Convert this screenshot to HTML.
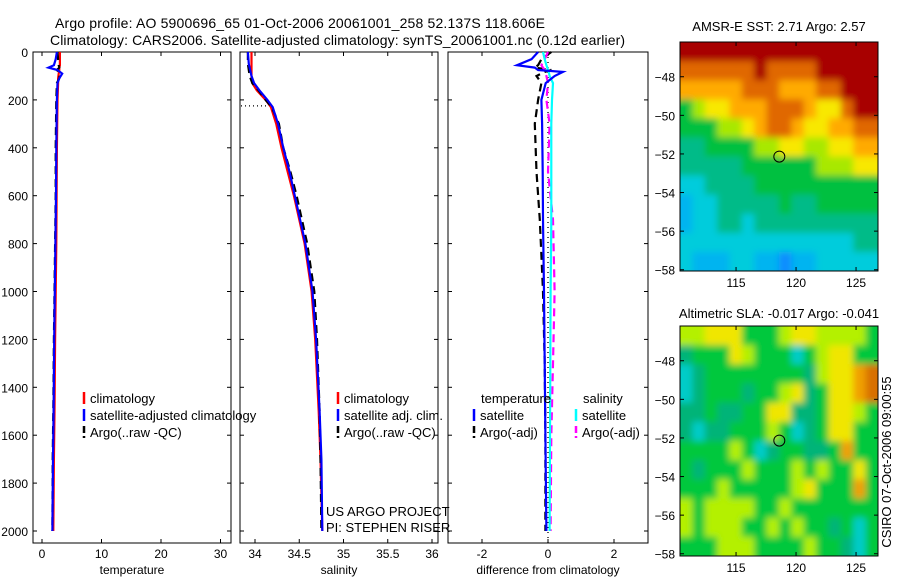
<!DOCTYPE html>
<html><head><meta charset="utf-8"><style>
body{margin:0;background:#fff;}
svg{display:block;font-family:"Liberation Sans",sans-serif;}
</style></head><body>
<svg id="c" width="900" height="580" viewBox="0 0 900 580">
<defs>
<filter id="blur" x="-5%" y="-5%" width="110%" height="110%"><feGaussianBlur stdDeviation="3.5"/></filter>
<clipPath id="clip1"><rect x="680" y="42" width="198" height="229"/></clipPath>
<clipPath id="clip2"><rect x="680" y="326" width="198" height="230"/></clipPath>
</defs>
</svg>
<script>
// ---------- data ----------
const tDepth = [0,30,55,65,75,90,110,130,200,300,400,600,800,1000,1200,1500,1700,2000];
const tClim  = [3.0,3.0,3.0,2.9,2.9,2.8,2.7,2.7,2.6,2.55,2.5,2.45,2.4,2.3,2.2,2.1,2.0,1.9];
const tSat   = [2.5,2.3,2.0,1.1,2.6,3.4,2.9,2.6,2.5,2.45,2.4,2.35,2.25,2.15,2.05,1.95,1.85,1.75];
const tArgo  = [2.6,2.7,2.8,2.9,2.5,3.0,2.9,2.5,2.4,2.35,2.3,2.3,2.2,2.1,2.0,1.9,1.8,1.75];
const sDepth = [0,50,100,130,160,200,230,300,400,500,600,700,800,1000,1200,1500,1700,2000];
const sClim  = [33.96,33.96,33.96,33.97,34.02,34.12,34.18,34.24,34.30,34.37,34.44,34.50,34.56,34.64,34.68,34.72,34.74,34.76];
const sSat   = [33.92,33.93,33.96,33.99,34.05,34.14,34.20,34.26,34.32,34.39,34.45,34.51,34.57,34.65,34.69,34.73,34.75,34.76];
const sArgo  = [33.92,33.92,33.94,33.97,34.04,34.12,34.19,34.27,34.32,34.40,34.47,34.53,34.59,34.67,34.70,34.73,34.74,34.75];
const dDepth = [0,30,55,65,75,83,100,130,200,300,500,700,1000,1300,1600,2000];
const dTSat  = [-0.3,-0.5,-0.94,-0.4,-0.3,0.45,0.2,-0.07,-0.2,-0.18,-0.16,-0.15,-0.12,-0.1,-0.08,-0.05];
const dTArgo = [0.1,-0.2,-0.3,-0.4,0.1,-0.1,-0.35,-0.2,-0.3,-0.4,-0.35,-0.25,-0.15,-0.1,-0.08,-0.08];
const dSSat  = [-0.15,-0.1,-0.05,-0.02,0,0.02,0.05,0.15,0.12,0.1,0.1,0.1,0.08,0.07,0.06,0.05];
const dSArgo = [0,-0.1,-0.2,-0.15,-0.1,-0.1,-0.05,0.0,-0.05,0.05,0.0,0.15,0.2,0.15,0.1,0.08];
const depthTicks = [0,200,400,600,800,1000,1200,1400,1600,1800,2000];
const tTicks = [0,10,20,30];
const sTicks = [34,34.5,35,35.5,36];
const sTickLabels = ["34","34.5","35","35.5","36"];
const dTicks = [-2,0,2];
const mapXTicks = [115,120,125];
const mapYTicks = [-48,-50,-52,-54,-56,-58];
const sstRows = [
"9999999999999999",
"8888889888899999",
"7777788877788999",
"4566777888766899",
"4445567887667788",
"3344445566556677",
"3333344444455566",
"2233334444444444",
"1223333343344444",
"1223323333333333",
"2222222222222233",
"2111221101122222"];
const slaRows = [
"5566644456655554",
"3444654442456644",
"2344444444356678",
"2344434456346678",
"3343344663346654",
"3233444542346644",
"4444542344334744",
"4344454445454464",
"4445444445644474",
"5455554454444444",
"5455544545443424",
"4445554444544324"];
const argoLon = 118.606, argoLat = -52.137;

// ---------- helpers ----------
const svg = document.getElementById('c');
const NS = 'http://www.w3.org/2000/svg';
function mk(tag, attrs, parent){const e=document.createElementNS(NS,tag);for(const k in attrs)e.setAttribute(k,attrs[k]);(parent||svg).appendChild(e);return e;}
function txt(x,y,s,size,anchor,parent){const e=mk('text',{x:x,y:y,'font-size':size,'text-anchor':anchor||'start',fill:'#000'},parent);e.textContent=s;return e;}

const TOP=52, BOT=543;
const yD = d => TOP + d*0.2395;
const panels = [
 {name:'temperature',x0:33,x1:231,f:v=>42+v*5.95,ticks:tTicks,labels:tTicks.map(String),label:'temperature'},
 {name:'salinity',x0:240,x1:438,f:v=>255+(v-34)*88.5,ticks:sTicks,labels:sTickLabels,label:'salinity'},
 {name:'difference',x0:448,x1:648,f:v=>548+v*33,ticks:dTicks,labels:dTicks.map(String),label:'difference from climatology'}
];

let t1=txt(55,28,'Argo profile: AO 5900696_65 01-Oct-2006 20061001_258 52.137S 118.606E',14);
t1.setAttribute('textLength','490');


let t2=txt(50,45,'Climatology: CARS2006. Satellite-adjusted climatology: synTS_20061001.nc (0.12d earlier)',14);
t2.setAttribute('textLength','575');



panels.forEach((p,i)=>{
  const g=mk('g',{});
  
  
  const fr=mk('rect',{x:p.x0,y:TOP,width:p.x1-p.x0,height:BOT-TOP,fill:'none',stroke:'#000','stroke-width':1},g);
  
  
  depthTicks.forEach(d=>{
    const y=yD(d);
    mk('line',{x1:p.x0,x2:p.x0+4,y1:y,y2:y,stroke:'#000'},g);
    mk('line',{x1:p.x1-4,x2:p.x1,y1:y,y2:y,stroke:'#000'},g);
    if(i===0){const l=txt(28,y+5,String(d),12,'end',g);
      
      }
  });
  p.ticks.forEach((v,j)=>{
    const x=p.f(v);
    mk('line',{x1:x,x2:x,y1:TOP,y2:TOP+4,stroke:'#000'},g);
    mk('line',{x1:x,x2:x,y1:BOT-4,y2:BOT,stroke:'#000'},g);
    const l=txt(x,BOT+15,p.labels[j],12,'middle',g);
    
    
  });
  const xl=txt((p.x0+p.x1)/2,BOT+31,p.label,12,'middle',g);
  
  
});

function line(depths,vals,f,color,dash,name,w){
  const pts=depths.map((d,k)=>f(vals[k]).toFixed(1)+','+yD(d).toFixed(1)).join(' ');
  const e=mk('polyline',{points:pts,fill:'none',stroke:color,'stroke-width':w||2.2,'stroke-dasharray':dash||'none'});
  
  
}
const P=panels;
line(tDepth,tClim,P[0].f,'#f00',null,'temp-climatology-line');
line(tDepth,tArgo,P[0].f,'#000','8,5','temp-argo-line');
line(tDepth,tSat,P[0].f,'#00f',null,'temp-satellite-line');
line(sDepth,sClim,P[1].f,'#f00',null,'sal-climatology-line');
line(sDepth,sArgo,P[1].f,'#000','8,5','sal-argo-line');
line(sDepth,sSat,P[1].f,'#00f',null,'sal-satellite-line');
let ml=mk('line',{x1:241,x2:266,y1:yD(225),y2:yD(225),stroke:'#000','stroke-dasharray':'1,3','stroke-width':1.3});


let zl=mk('line',{x1:P[2].f(0),x2:P[2].f(0),y1:TOP,y2:BOT,stroke:'#000','stroke-dasharray':'1,4','stroke-width':1.3});


line(dDepth,dTArgo,P[2].f,'#000','8,5','diff-temp-argo-line');
line(dDepth,dSArgo,P[2].f,'#f0f','8,5','diff-sal-argo-line');
line(dDepth,dSSat,P[2].f,'#0ff',null,'diff-sal-satellite-line');
line(dDepth,dTSat,P[2].f,'#00f',null,'diff-temp-satellite-line');

function leg(x,y,color,label,name,dash){
  const g=mk('g',{});
  
  
  mk('line',{x1:x,x2:x,y1:y-11,y2:y+1,stroke:color,'stroke-width':2.5,'stroke-dasharray':dash?'7,3':'none'},g);
  txt(x+6,y,label,13,'start',g);
}
leg(84,403,'#f00','climatology','legend-temp-climatology');
leg(84,420,'#00f','satellite-adjusted climatology','legend-temp-satellite');
leg(84,437,'#000','Argo(..raw -QC)','legend-temp-argo',1);
leg(338,403,'#f00','climatology','legend-sal-climatology');
leg(338,420,'#00f','satellite adj. clim.','legend-sal-satellite');
leg(338,437,'#000','Argo(..raw -QC)','legend-sal-argo',1);
let lt=txt(481,403,'temperature',13);


let ls=txt(583,403,'salinity',13);


leg(474,420,'#00f','satellite','legend-diff-temp-satellite');
leg(474,437,'#000','Argo(-adj)','legend-diff-temp-argo',1);
leg(576,420,'#0ff','satellite','legend-diff-sal-satellite');
leg(576,437,'#f0f','Argo(-adj)','legend-diff-sal-argo',1);
let w1=txt(326,516,'US ARGO PROJECT',13);


let w2=txt(326,532,'PI: STEPHEN RISER',13);



// ---------- maps ----------
const sstCols={0:'#0a8cff',1:'#00b4f0',2:'#00ccdc',3:'#00bb88',4:'#00c040',5:'#a8e800',6:'#f8e800',7:'#ffaa00',8:'#e06800',9:'#a80000'};
const slaCols={2:'#00ccc8',3:'#00b478',4:'#00c83c',5:'#b4f000',6:'#f0e600',7:'#f0a000',8:'#d87000'};
function map(x0,x1,top,bot,latTop,rows,cols,title,ty,name,clip){
  const g=mk('g',{});
  
  
  const lonL=110.33, lonR=126.83;
  const fx=lon=>x0+(lon-lonL)/(lonR-lonL)*(x1-x0);
  const py=19.3;
  const fy=lat=>top+(latTop-lat)*py;
  const nr=rows.length, nc=rows[0].length;
  const cw=(x1-x0)/nc, ch=(bot-top)/nr;
  const cg=mk('g',{'clip-path':'url(#'+clip+')'},g);
  const bg=mk('g',{filter:'url(#blur)'},cg);
  rows.forEach((r,ri)=>{
    for(let ci=0;ci<nc;ci++){
      const ext=8;
      const xx=x0+ci*cw-(ci===0?ext:0), ww=cw+0.6+(ci===0?ext:0)+(ci===nc-1?ext:0);
      const yy=top+ri*ch-(ri===0?ext:0), hh=ch+0.6+(ri===0?ext:0)+(ri===nr-1?ext:0);
      const c=mk('rect',{x:xx.toFixed(2),y:yy.toFixed(2),width:ww.toFixed(2),height:hh.toFixed(2),fill:cols[r[ci]]},bg);
      
      
    }
  });
  mk('rect',{x:x0,y:top,width:x1-x0,height:bot-top,fill:'none',stroke:'#000'},g);
  mapXTicks.forEach(v=>{const x=fx(v);
    mk('line',{x1:x,x2:x,y1:top,y2:top+4,stroke:'#000'},g);
    mk('line',{x1:x,x2:x,y1:bot-4,y2:bot,stroke:'#000'},g);
    const l=txt(x,bot+16,String(v),12,'middle',g);
    
    });
  mapYTicks.forEach(v=>{const y=fy(v);
    mk('line',{x1:x0,x2:x0+4,y1:y,y2:y,stroke:'#000'},g);
    mk('line',{x1:x1-4,x2:x1,y1:y,y2:y,stroke:'#000'},g);
    const l=txt(x0-5,y+5,String(v).replace('-','\u2212'),12,'end',g);
    
    });
  const c=mk('circle',{cx:fx(argoLon),cy:fy(argoLat),r:5.5,fill:'none',stroke:'#000','stroke-width':1},g);
  
  
  const t=txt((x0+x1)/2,ty,title,13,'middle',g);
  
  
}
map(680,878,42,271,-46.2,sstRows,sstCols,'AMSR-E SST: 2.71 Argo: 2.57',31,'sst-map','clip1');
map(680,878,326,556,-46.2,slaRows,slaCols,'Altimetric SLA: -0.017 Argo: -0.041',318,'sla-map','clip2');
const st=txt(0,0,'CSIRO 07-Oct-2006 09:00:55',13,'middle');
st.setAttribute('transform','translate(891,462) rotate(-90)');


</script>
</body></html>
